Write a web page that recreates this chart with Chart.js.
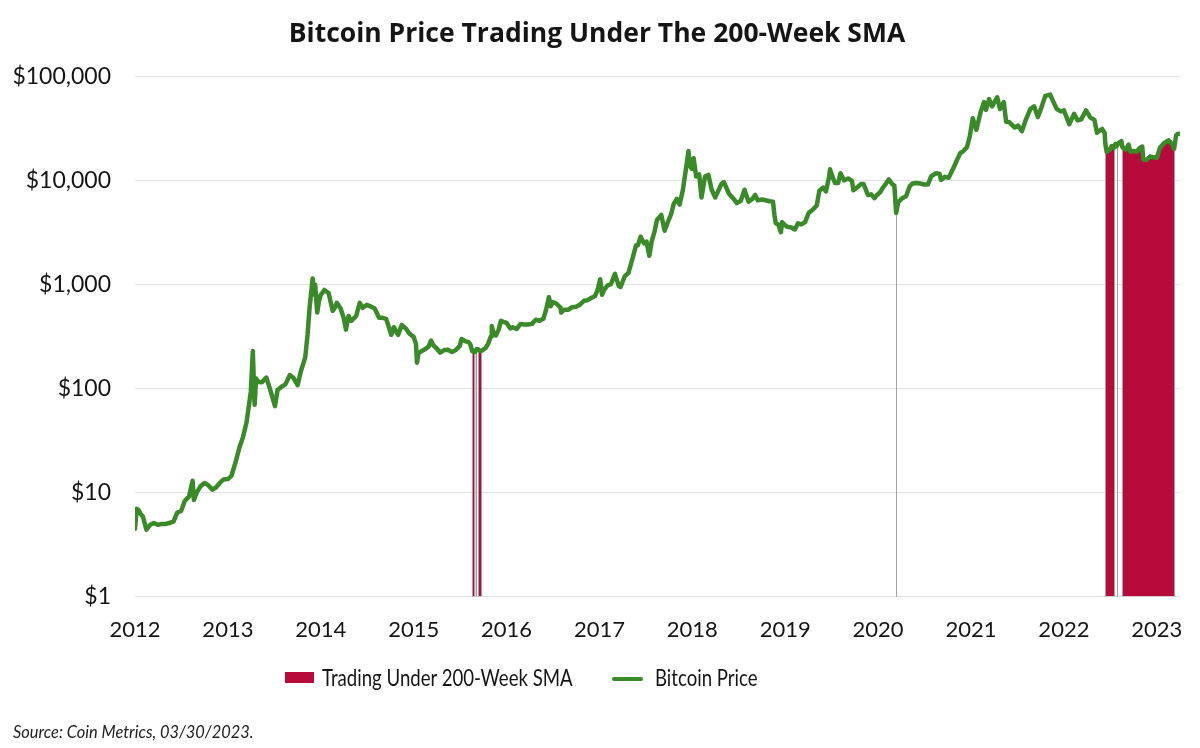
<!DOCTYPE html>
<html lang="en">
<head>
  <meta charset="UTF-8">
  <title>Bitcoin Price Trading Under The 200-Week SMA</title>
  <script src="https://cdn.jsdelivr.net/npm/chart.js"></script>
  <style>
    body { margin: 0; background: #fff; }
    .wrap { position: relative; width: 1200px; height: 748px; }
    .legend-box { position: absolute; left: 285px; top: 672px; width: 29px; height: 11px; background: #b60b3b; }
    .legend-line { position: absolute; left: 612px; top: 677px; width: 31px; height: 4px; background: #3a8a2a; border-radius: 2px; }
    .legend-text { position: absolute; top: 665px; font: 24px/24px Lato, sans-serif; color: #151515;
                   white-space: nowrap; transform: scaleX(0.775); transform-origin: left top; }
    .source { position: absolute; left: 13px; top: 722px; font: italic 16.4px Lato, sans-serif; color: #222; }
  </style>
</head>
<body>
  <div class="wrap">
    <canvas id="btcChart" width="1200" height="748"></canvas>
    <!-- legend -->
    <div class="legend-box"></div>
    <div class="legend-text" style="left: 322px;">Trading Under 200-Week SMA</div>
    <div class="legend-line"></div>
    <div class="legend-text" style="left: 655px;">Bitcoin Price</div>
    <div class="source">Source: Coin Metrics, 03/30/2023.</div>
  </div>

  <script>
    // weekly-ish closes (USD)
    const dates = [
      '2012-01-01','2012-01-08','2012-01-15','2012-01-22','2012-02-01','2012-02-15','2012-03-01','2012-03-15','2012-04-01','2012-04-15','2012-05-01','2012-05-15','2012-06-01','2012-06-15','2012-07-01','2012-07-15','2012-08-01','2012-08-15','2012-08-20','2012-09-01','2012-09-15','2012-10-01','2012-10-15','2012-11-01','2012-11-15','2012-12-01','2012-12-15',
      '2013-01-01','2013-01-15','2013-02-01','2013-02-15','2013-03-01','2013-03-15','2013-04-01','2013-04-09','2013-04-16','2013-04-22','2013-05-01','2013-05-15','2013-06-01','2013-06-15','2013-07-05','2013-07-15','2013-08-01','2013-08-15','2013-09-01','2013-09-15','2013-10-02','2013-10-15','2013-11-01','2013-11-10','2013-11-18','2013-11-30','2013-12-07','2013-12-10','2013-12-18','2013-12-25',
      '2014-01-01','2014-01-15','2014-02-01','2014-02-17','2014-02-25','2014-03-05','2014-03-20','2014-04-01','2014-04-10','2014-04-20','2014-05-01','2014-05-20','2014-06-03','2014-06-15','2014-07-01','2014-07-15','2014-08-01','2014-08-18','2014-09-01','2014-09-15','2014-10-05','2014-10-15','2014-11-01','2014-11-15','2014-12-01','2014-12-15',
      '2015-01-01','2015-01-10','2015-01-14','2015-01-20','2015-02-01','2015-02-15','2015-03-01','2015-03-10','2015-03-20','2015-04-01','2015-04-15','2015-05-01','2015-05-15','2015-06-01','2015-06-15','2015-07-01','2015-07-08','2015-07-25','2015-08-05','2015-08-12','2015-08-19','2015-08-28','2015-09-01','2015-09-05','2015-09-11','2015-09-17','2015-09-23','2015-09-30','2015-10-10','2015-10-20','2015-11-01','2015-11-04','2015-11-12','2015-11-20','2015-12-01','2015-12-10','2015-12-20',
      '2016-01-01','2016-01-15','2016-01-25','2016-02-10','2016-02-25','2016-03-10','2016-03-25','2016-04-10','2016-04-25','2016-05-10','2016-05-25','2016-06-05','2016-06-16','2016-06-23','2016-07-01','2016-07-15','2016-08-01','2016-08-03','2016-08-15','2016-09-01','2016-09-15','2016-10-01','2016-10-15','2016-11-01','2016-11-15','2016-12-01','2016-12-15','2016-12-25',
      '2017-01-04','2017-01-11','2017-01-20','2017-02-01','2017-02-15','2017-03-03','2017-03-18','2017-03-25','2017-04-10','2017-04-25','2017-05-10','2017-05-25','2017-06-01','2017-06-12','2017-06-25','2017-07-05','2017-07-16','2017-07-25','2017-08-05','2017-08-15','2017-09-01','2017-09-14','2017-09-25','2017-10-10','2017-10-20','2017-11-01','2017-11-12','2017-11-25','2017-12-07','2017-12-17','2017-12-22','2017-12-30',
      '2018-01-06','2018-01-16','2018-01-28','2018-02-06','2018-02-20','2018-03-05','2018-03-18','2018-04-01','2018-04-12','2018-04-25','2018-05-05','2018-05-25','2018-06-10','2018-06-25','2018-07-10','2018-07-25','2018-08-10','2018-08-25','2018-09-05','2018-09-15','2018-10-01','2018-10-15','2018-11-01','2018-11-14','2018-11-20','2018-11-25','2018-12-05','2018-12-15','2018-12-20','2018-12-28',
      '2019-01-10','2019-01-25','2019-02-08','2019-02-20','2019-03-05','2019-03-20','2019-04-03','2019-04-20','2019-05-05','2019-05-15','2019-05-30','2019-06-10','2019-06-22','2019-06-26','2019-07-05','2019-07-16','2019-07-28','2019-08-06','2019-08-20','2019-09-05','2019-09-20','2019-09-26','2019-10-10','2019-10-25','2019-11-05','2019-11-22','2019-12-05','2019-12-18','2019-12-28',
      '2020-01-10','2020-01-20','2020-02-01','2020-02-12','2020-02-25','2020-03-05','2020-03-12','2020-03-20','2020-04-05','2020-04-20','2020-05-05','2020-05-15','2020-06-01','2020-06-15','2020-07-01','2020-07-15','2020-07-28','2020-08-15','2020-08-30','2020-09-05','2020-09-20','2020-10-05','2020-10-21','2020-11-05','2020-11-20','2020-12-01','2020-12-16','2020-12-27',
      '2021-01-08','2021-01-22','2021-02-08','2021-02-21','2021-03-01','2021-03-13','2021-03-25','2021-04-14','2021-04-25','2021-05-10','2021-05-19','2021-06-01','2021-06-22','2021-07-05','2021-07-20','2021-08-05','2021-08-22','2021-09-06','2021-09-21','2021-10-05','2021-10-20','2021-11-08','2021-11-20','2021-12-04','2021-12-20',
      '2022-01-01','2022-01-22','2022-02-10','2022-02-24','2022-03-10','2022-03-29','2022-04-15','2022-05-01','2022-05-11','2022-05-31','2022-06-10','2022-06-13','2022-06-18','2022-06-30','2022-07-08','2022-07-17','2022-07-22','2022-07-27','2022-08-05','2022-08-15','2022-08-19','2022-09-01','2022-09-12','2022-09-20','2022-10-01','2022-10-15','2022-10-26','2022-11-05','2022-11-09','2022-11-21','2022-12-05','2022-12-20',
      '2023-01-01','2023-01-14','2023-01-30','2023-02-16','2023-02-25','2023-03-03','2023-03-10','2023-03-18','2023-03-22','2023-03-30'
    ];
    const prices = [
      4.5,7.0,6.8,6.3,5.9,4.4,4.9,5.1,4.9,5.0,5.0,5.1,5.3,6.4,6.7,8.3,9.2,13.0,8.5,10.1,11.5,12.4,11.8,10.7,11.2,12.5,13.4,
      13.5,14.5,20,27,34,47,93,230,70,125,116,115,128,100,68,97,105,110,135,128,108,148,200,330,600,1150,800,1000,540,700,
      800,890,830,560,600,670,590,480,370,500,450,500,670,600,640,620,590,480,480,470,330,390,330,410,380,340,
      315,270,178,220,230,240,255,290,260,245,222,235,237,225,235,258,300,285,280,265,230,225,228,240,240,232,230,236,245,268,320,400,330,325,370,450,440,
      430,380,390,375,420,415,415,420,460,450,470,580,760,620,680,660,600,540,575,575,608,615,640,700,710,750,780,900,
      1130,800,900,980,1010,1270,970,950,1200,1300,1750,2400,2400,2900,2500,2600,1900,2600,3200,4200,4700,3300,3900,4800,6000,6700,5900,8200,13000,19300,14000,13000,
      16500,11000,11500,6900,11000,11400,8200,6900,7900,9300,9700,7500,6800,6100,6400,8200,6300,6700,7300,6500,6600,6500,6350,6300,4600,3900,3800,3200,4000,3800,
      3600,3550,3400,3900,3800,4000,4900,5300,5800,8000,8600,7900,10800,12900,11000,9500,9500,11800,10100,10500,10000,8100,8600,9300,9300,7300,7400,6800,7300,
      7800,8600,9400,10300,9300,9000,4900,6200,6800,7100,8900,9400,9500,9400,9200,9200,11000,11800,11700,10200,10900,10700,12800,15500,18500,19200,21000,26500,
      40000,30800,46000,57000,48000,61000,52000,63500,49000,57000,37000,36500,32500,34000,30000,39000,49000,52000,41000,51000,65500,67500,58000,49000,46500,
      47500,35000,44000,38000,39000,47500,40500,38500,29000,31500,29000,22500,19000,19800,21600,20800,22600,21500,23200,24000,21000,20000,22300,19000,19300,19100,20700,21300,16000,15800,17100,16800,
      16600,20900,23000,24500,23200,22300,20200,27400,28000,28300
    ];

    // stretches where the price sat below its 200-week SMA
    const underRanges = [
      ['2015-08-19', '2015-08-19'],
      ['2015-08-28', '2015-09-01'],
      ['2015-09-11', '2015-09-23'],
      ['2020-03-12', '2020-03-12'],
      ['2022-06-13', '2022-07-17'],
      ['2022-07-27', '2022-07-27'],
      ['2022-08-19', '2023-03-10']
    ];

    const yearTicks = [2012, 2013, 2014, 2015, 2016, 2017, 2018, 2019, 2020, 2021, 2022, 2023];
    const priceTicks = [1, 10, 100, 1000, 10000, 100000];

    const RED = '#b60b3b';
    const GREEN = '#3a8a2a';
    const TEXT = '#151515';

    function toYear(d) {
      const [y, m, day] = d.split('-').map(Number);
      const start = Date.UTC(y, 0, 1);
      const end = Date.UTC(y + 1, 0, 1);
      return y + (Date.UTC(y, m - 1, day) - start) / (end - start);
    }

    const isUnder = d => underRanges.some(([a, b]) => d >= a && d <= b);

    const priceData = dates.map((d, i) => ({ x: toYear(d), y: prices[i] }));
    const underData = dates.map((d, i) => ({ x: toYear(d), y: isUnder(d) ? prices[i] : null }));

    // thin grey edges on each under-SMA stretch (one-week ones show only as a line)
    const edgeLines = {
      id: 'edgeLines',
      afterDatasetDraw(chart, args) {
        if (args.index !== 0) return;
        const { ctx, chartArea, scales: { x, y } } = chart;
        ctx.save();
        ctx.strokeStyle = '#a3a3a3';
        ctx.lineWidth = 1;
        underRanges.forEach(([a, b]) => {
          [a, b].forEach(d => {
            const i = dates.indexOf(d);
            const px = Math.round(x.getPixelForValue(toYear(d))) + 0.5;
            ctx.beginPath();
            ctx.moveTo(px, y.getPixelForValue(prices[i]));
            ctx.lineTo(px, chartArea.bottom);
            ctx.stroke();
          });
        });
        ctx.restore();
      }
    };

    new Chart(document.getElementById('btcChart'), {
      type: 'line',
      data: {
        datasets: [
          {
            label: 'Trading Under 200-Week SMA',
            data: underData,
            backgroundColor: RED,
            borderWidth: 0,
            pointRadius: 0,
            fill: 'start',
            spanGaps: false,
            order: 2
          },
          {
            label: 'Bitcoin Price',
            data: priceData,
            borderColor: GREEN,
            borderWidth: 4.5,
            borderJoinStyle: 'round',
            borderCapStyle: 'round',
            pointRadius: 0,
            fill: false,
            tension: 0,
            order: 1
          }
        ]
      },
      options: {
        responsive: false,
        animation: false,
        devicePixelRatio: 1,
        layout: { padding: { left: 14, right: 20, top: 0, bottom: 93 } },
        plugins: {
          title: {
            display: true,
            text: 'Bitcoin Price Trading Under The 200-Week SMA',
            color: TEXT,
            font: { family: 'Open Sans', size: 26.5, weight: 'bold' },
            padding: { top: 19, bottom: 26 }
          },
          legend: { display: false },
          tooltip: { enabled: false }
        },
        scales: {
          x: {
            type: 'linear',
            min: 2012,
            max: 2023.25,
            afterBuildTicks: scale => { scale.ticks = yearTicks.map(v => ({ value: v })); },
            ticks: { color: TEXT, font: { family: 'Lato', size: 22 }, padding: 12, maxRotation: 0, callback: v => String(v) },
            grid: { display: false },
            border: { display: false }
          },
          y: {
            type: 'logarithmic',
            min: 1,
            max: 100000,
            afterBuildTicks: scale => { scale.ticks = priceTicks.map(v => ({ value: v })); },
            afterFit: scale => { scale.width = 121; },
            ticks: { color: TEXT, font: { family: 'Lato', size: 23 }, padding: 24, callback: v => '$' + Number(v).toLocaleString('en-US') },
            grid: { color: '#e2e2e2', drawTicks: false },
            border: { display: false }
          }
        }
      },
      plugins: [edgeLines]
    });
  </script>
</body>
</html>
